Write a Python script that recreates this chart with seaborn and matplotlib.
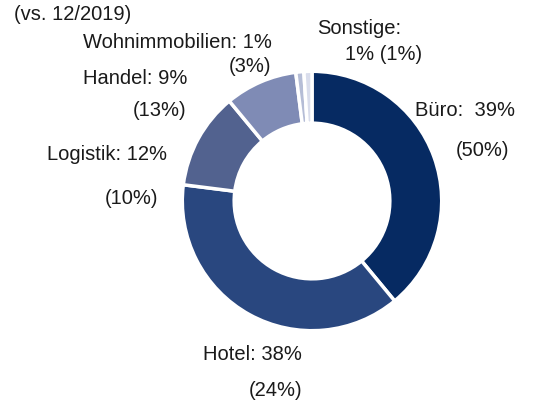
import matplotlib
matplotlib.use("Agg")
import matplotlib.pyplot as plt
import seaborn as sns

# Portfolio split by use type (current share, previous share 12/2019)
segments = ["Büro", "Hotel", "Logistik", "Handel", "Wohnimmobilien", "Sonstige"]
shares = [39, 38, 12, 9, 1, 1]
prev_shares = [50, 24, 10, 13, 3, 1]
colors = ["#062a62", "#29477f", "#52628f", "#7f8bb5", "#b5bdd6", "#d9ddec"]

sns.set_style("white")
plt.rcParams["font.family"] = ["Liberation Sans", "DejaVu Sans"]

W, H = 533, 405
fig = plt.figure(figsize=(W / 100, H / 100), dpi=100)

# donut centre and radius in pixels
cx, cy, r = 312, 201, 131
ax = fig.add_axes([(cx - r) / W, (H - cy - r) / H, 2 * r / W, 2 * r / H])
ax.pie(shares, colors=colors, startangle=90, counterclock=False,
       radius=1.0, wedgeprops=dict(width=0.40, edgecolor="white", linewidth=2.5))
ax.set_xlim(-1.01, 1.01)
ax.set_ylim(-1.01, 1.01)
ax.set_aspect("equal")
ax.axis("off")


def label(x, y, s):
    fig.text(x / W, 1 - y / H, s, ha="left", va="center", fontsize=14.5, color="#1a1a1a")


label(14, 14, "(vs. 12/2019)")
label(83, 42, f"{segments[4]}: {shares[4]}%")
label(229, 67, f"({prev_shares[4]}%)")
label(317, 28, f"{segments[5]}:")
label(345, 55, f"{shares[5]}% ({prev_shares[5]}%)")
label(83, 78, f"{segments[3]}: {shares[3]}%")
label(133, 111, f"({prev_shares[3]}%)")
label(415, 111, f"{segments[0]}:  {shares[0]}%")
label(456, 150, f"({prev_shares[0]}%)")
label(47, 155, f"{segments[2]}: {shares[2]}%")
label(105, 198, f"({prev_shares[2]}%)")
label(203, 355, f"{segments[1]}: {shares[1]}%")
label(249, 391, f"({prev_shares[1]}%)")

fig.savefig("out.png", dpi=100)
